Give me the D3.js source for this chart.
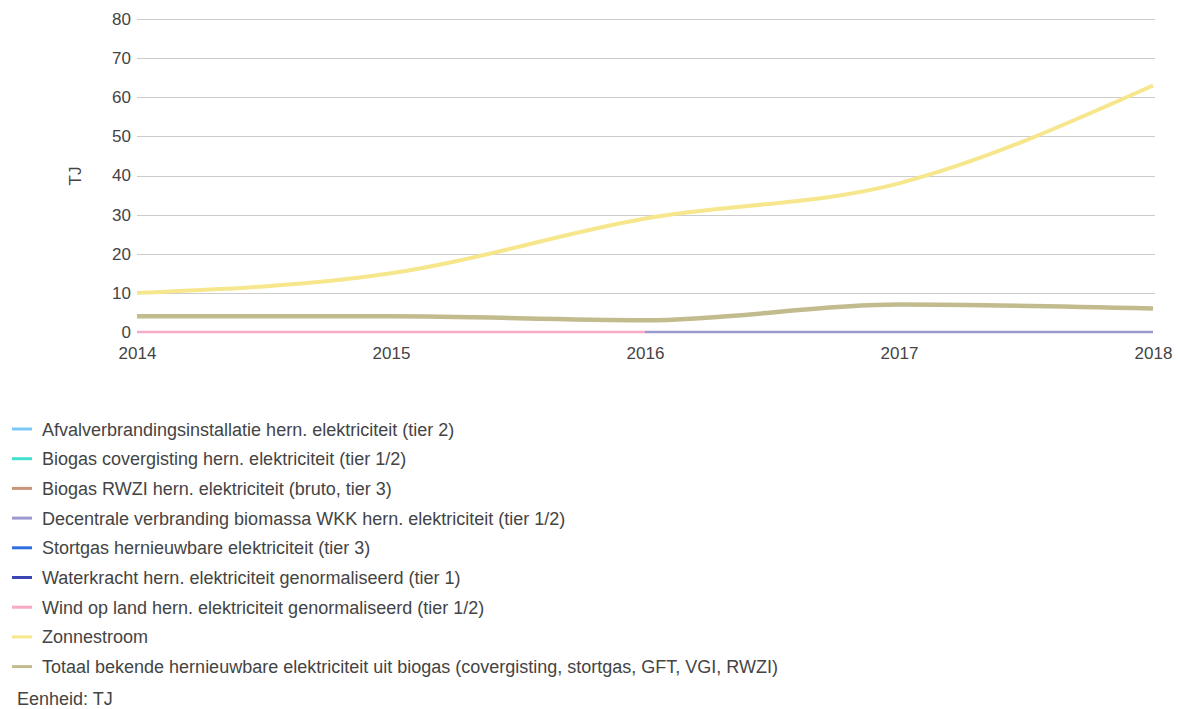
<!DOCTYPE html>
<html><head><meta charset="utf-8">
<script src="https://cdn.jsdelivr.net/npm/d3@7"></script>
<style>body{margin:0;background:#fff;}svg{display:block;font-family:"Liberation Sans",Arial,sans-serif;}</style>
</head><body><svg id="c" width="1179" height="709"></svg>
<script>
const years = [2014, 2015, 2016, 2017, 2018];
const yTicks = [0, 10, 20, 30, 40, 50, 60, 70, 80];
const seriesNames = [
  "Afvalverbrandingsinstallatie hern. elektriciteit (tier 2)",
  "Biogas covergisting hern. elektriciteit (tier 1/2)",
  "Biogas RWZI hern. elektriciteit (bruto, tier 3)",
  "Decentrale verbranding biomassa WKK hern. elektriciteit (tier 1/2)",
  "Stortgas hernieuwbare elektriciteit (tier 3)",
  "Waterkracht hern. elektriciteit genormaliseerd (tier 1)",
  "Wind op land hern. elektriciteit genormaliseerd (tier 1/2)",
  "Zonnestroom",
  "Totaal bekende hernieuwbare elektriciteit uit biogas (covergisting, stortgas, GFT, VGI, RWZI)"
];
const seriesColors = ["#7cc8f4","#3fe0cc","#c8957a","#9a9ad0","#2f6fe0","#3c46b4","#f7a9c6","#f6e68c","#c2bb8e"];
const afval = [null, null, null, null, null];
const covergisting = [null, null, null, null, null];
const rwzi = [null, null, null, null, null];
const decentrale = [null, null, 0, 0, 0];
const stortgas = [null, null, null, null, null];
const waterkracht = [null, null, null, null, null];
const wind = [0, 0, 0, null, null];
const zonnestroom = [10, 15, 29, 38, 63];
const totaalBiogas = [4, 4, 3, 7, 6];
const seriesValues = [afval, covergisting, rwzi, decentrale, stortgas, waterkracht, wind, zonnestroom, totaalBiogas];
const seriesWidths = [2.5, 2.5, 2.5, 2.5, 2.5, 2.5, 2.5, 4, 4.5];

const svg = d3.select("#c");
const x = d3.scaleLinear().domain([2014, 2018]).range([137, 1153]);
const y = d3.scaleLinear().domain([0, 80]).range([332, 19]);
const FONT = "Liberation Sans, Arial, sans-serif";

// gridlines
svg.append("g").selectAll("line").data(yTicks.filter(d => d !== 0)).join("line")
  .attr("x1", 137).attr("x2", 1155)
  .attr("y1", d => Math.round(y(d)) + 0.5).attr("y2", d => Math.round(y(d)) + 0.5)
  .attr("stroke", "#cccccc").attr("stroke-width", 1);

// y axis
const yAxis = d3.axisLeft(y).tickValues(yTicks).tickSize(0).tickPadding(6);
const gy = svg.append("g").attr("transform", "translate(137,0)").call(yAxis);
gy.select(".domain").remove();
gy.selectAll("text").attr("font-size", 17).attr("fill", "#444").attr("font-family", FONT);

// x axis
const xAxis = d3.axisBottom(x).tickValues(years).tickFormat(d3.format("d")).tickSize(0).tickPadding(15);
const gx = svg.append("g").attr("transform", "translate(0,332)").call(xAxis);
gx.select(".domain").remove();
gx.selectAll("text").attr("font-size", 17).attr("fill", "#444").attr("font-family", FONT);

// y label
svg.append("text").attr("transform", "translate(81,176) rotate(-90)")
  .attr("text-anchor", "middle").attr("font-size", 17).attr("fill", "#444").text("TJ");

// lines
const line = d3.line().defined(d => d[1] !== null)
  .x(d => x(d[0])).y(d => y(d[1])).curve(d3.curveMonotoneX);
seriesValues.forEach((vals, i) => {
  const pts = years.map((yr, j) => [yr, vals[j]]);
  if (pts.every(p => p[1] === null)) return;
  svg.append("path").attr("d", line(pts)).attr("fill", "none")
    .attr("stroke", seriesColors[i]).attr("stroke-width", seriesWidths[i])
    .attr("stroke-linecap", "butt");
});

// legend
const lg = svg.append("g");
seriesNames.forEach((name, i) => {
  const cy = 429 + i * 29.7;
  lg.append("line").attr("x1", 12).attr("x2", 32).attr("y1", cy).attr("y2", cy)
    .attr("stroke", seriesColors[i]).attr("stroke-width", 3);
  lg.append("text").attr("x", 42).attr("y", cy + 6.5).attr("font-size", 18).attr("fill", "#444").text(name);
});
svg.append("text").attr("x", 17).attr("y", 705).attr("font-size", 18).attr("fill", "#444").text("Eenheid: TJ");
</script></body></html>
